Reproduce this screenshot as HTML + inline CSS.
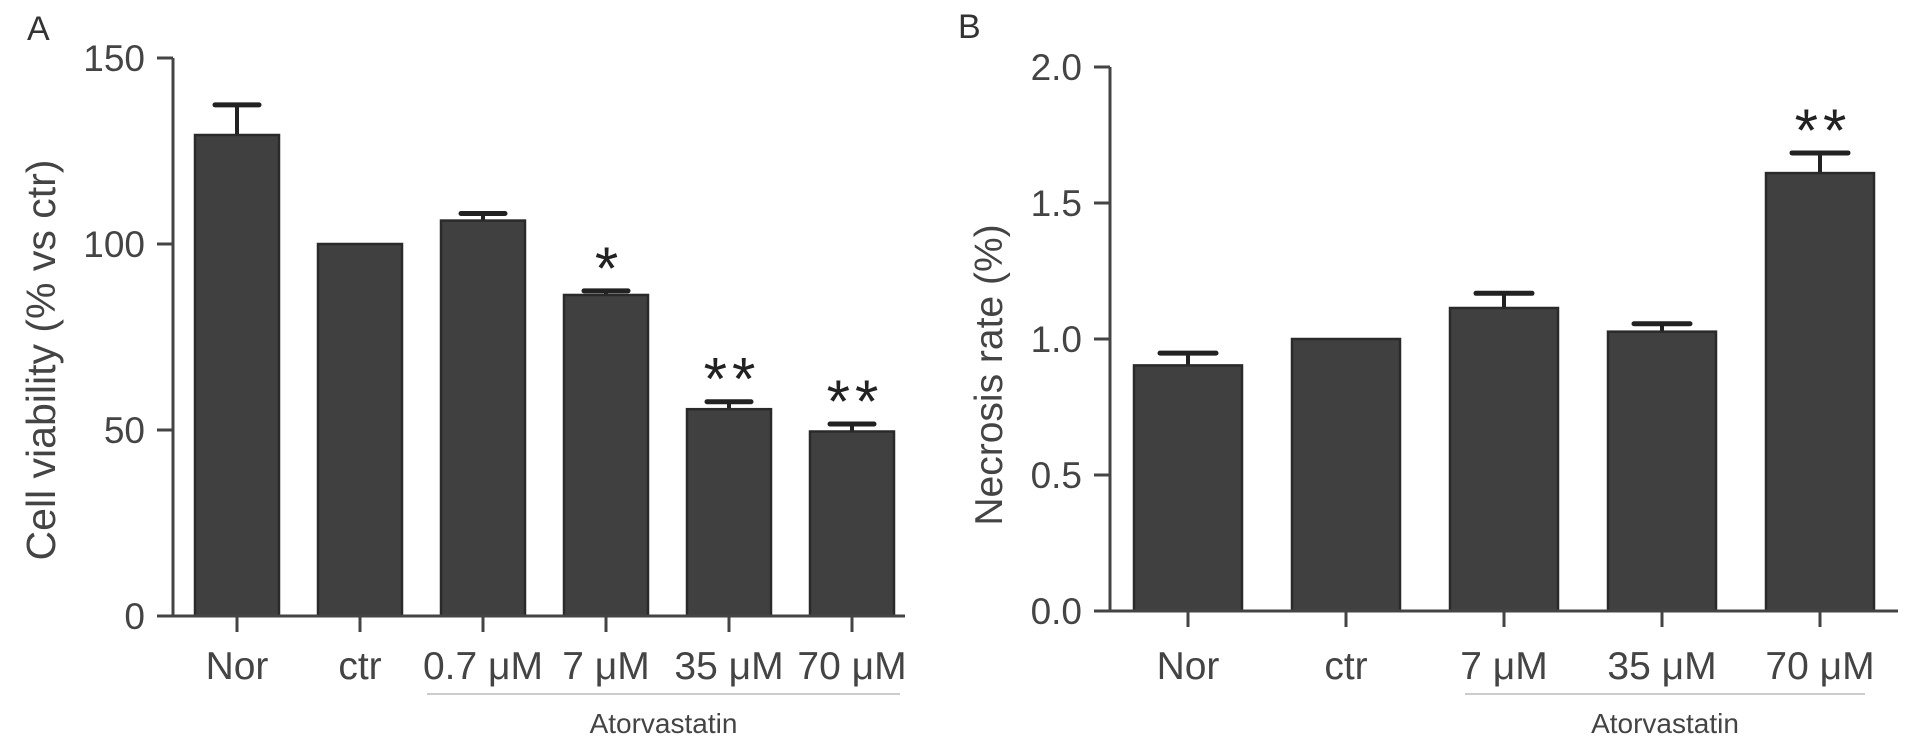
<!DOCTYPE html>
<html><head><meta charset="utf-8"><style>
html,body{margin:0;padding:0;background:#fff;}
svg{display:block;font-family:"Liberation Sans",sans-serif;}
</style></head><body>
<svg id="chart" width="1913" height="751" viewBox="0 0 1913 751">
<text x="27" y="40" font-size="34" fill="#333">A</text>
<text x="958" y="38" font-size="34" fill="#333">B</text>
<g id="pa"></g>
<g id="pb"></g>
</svg>
<script>
const catsA = ["Nor","ctr","0.7 μM","7 μM","35 μM","70 μM"];
const valsA = [129.3,100,106.3,86.3,55.6,49.6];
const errA  = [137.4,100,108.2,87.4,57.6,51.6];
const starsA = ["","","","*","**","**"];
const ticksA = [0,50,100,150];
const catsB = ["Nor","ctr","7 μM","35 μM","70 μM"];
const valsB = [0.903,1.0,1.114,1.027,1.61];
const errB  = [0.948,1.0,1.168,1.056,1.684];
const starsB = ["","","","","**"];
const ticksB = [0,0.5,1.0,1.5,2.0];
const ticksBLabels = ["0.0","0.5","1.0","1.5","2.0"];

const NS="http://www.w3.org/2000/svg";
function mk(parent,tag,attrs,text){const e=document.createElementNS(NS,tag);for(const k in attrs)e.setAttribute(k,attrs[k]);if(text!==undefined)e.textContent=text;parent.appendChild(e);return e;}

function panel(g,cfg){
  const y=v=>cfg.y0-(v-cfg.vmin)/(cfg.vmax-cfg.vmin)*(cfg.y0-cfg.yTop);
  const x=i=>cfg.c0+i*cfg.step;
  cfg.cats.forEach((c,i)=>{
    const top=y(cfg.vals[i]), et=y(cfg.err[i]);
    if(cfg.err[i]>cfg.vals[i]){
      const ln=mk(g,'line',{x1:x(i),x2:x(i),y1:et,y2:top,stroke:'#222','stroke-width':4});
      
      
      const cap=mk(g,'line',{x1:x(i)-cfg.capW/2,x2:x(i)+cfg.capW/2,y1:et,y2:et,stroke:'#222','stroke-width':5,'stroke-linecap':'round'});
      
      
    }
    const r=mk(g,'rect',{x:x(i)-cfg.bw/2,y:top,width:cfg.bw,height:cfg.y0-top,fill:'#404040',stroke:'#2a2a2a','stroke-width':2.5});
    
    
    const tk=mk(g,'line',{x1:x(i),x2:x(i),y1:cfg.y0,y2:cfg.y0+16,stroke:'#444','stroke-width':3});
    
    
    const t=mk(g,'text',{x:x(i),y:679,'font-size':39,'text-anchor':'middle',fill:'#444'},c);
    
    
    if(cfg.stars[i]){
      const s=mk(g,'text',{x:x(i)+3,y:et-cfg.starGap,'font-size':60,'text-anchor':'middle',fill:'#222','letter-spacing':'5'},cfg.stars[i]);
      
      
    }
  });
  const ya=mk(g,'line',{x1:cfg.ax,x2:cfg.ax,y1:y(cfg.vmax),y2:cfg.y0,stroke:'#444','stroke-width':3});
  
  
  const xa=mk(g,'line',{x1:cfg.ax-16,x2:cfg.axEnd,y1:cfg.y0,y2:cfg.y0,stroke:'#444','stroke-width':3});
  
  
  cfg.ticks.forEach((v,i)=>{
    const l=mk(g,'line',{x1:cfg.ax-16,x2:cfg.ax,y1:y(v),y2:y(v),stroke:'#444','stroke-width':3});
    
    
    const t=mk(g,'text',{x:cfg.ax-28,y:y(v)+13,'font-size':37,'text-anchor':'end',fill:'#444'},cfg.tickLabels[i]);
    
    
  });
  const yt=mk(g,'text',{x:0,y:0,'font-size':cfg.titleSize,'text-anchor':'middle',fill:'#444',transform:`translate(${cfg.titleX},${cfg.titleY}) rotate(-90)`},cfg.title);
  
  
  const ul=mk(g,'line',{x1:cfg.ulx1,x2:cfg.ulx2,y1:694,y2:694,stroke:'#ccc','stroke-width':2});
  
  
  const gl=mk(g,'text',{x:(cfg.ulx1+cfg.ulx2)/2,y:733,'font-size':28,'text-anchor':'middle',fill:'#444'},'Atorvastatin');
  
  
}
panel(document.getElementById('pa'),{cats:catsA,vals:valsA,err:errA,stars:starsA,ticks:ticksA,tickLabels:ticksA.map(String),
  vmin:0,vmax:150,y0:616,yTop:58,c0:237,step:123,bw:84,capW:44,ax:173,axEnd:905,starGap:2,
  title:'Cell viability (% vs ctr)',titleSize:41,titleX:55,titleY:360,ulx1:427,ulx2:900});
panel(document.getElementById('pb'),{cats:catsB,vals:valsB,err:errB,stars:starsB,ticks:ticksB,tickLabels:ticksBLabels,
  vmin:0,vmax:2,y0:611,yTop:67,c0:1188,step:158,bw:108,capW:56,ax:1110,axEnd:1898,starGap:2,
  title:'Necrosis rate (%)',titleSize:39,titleX:1002,titleY:375,ulx1:1465,ulx2:1865});
</script>
</body></html>
